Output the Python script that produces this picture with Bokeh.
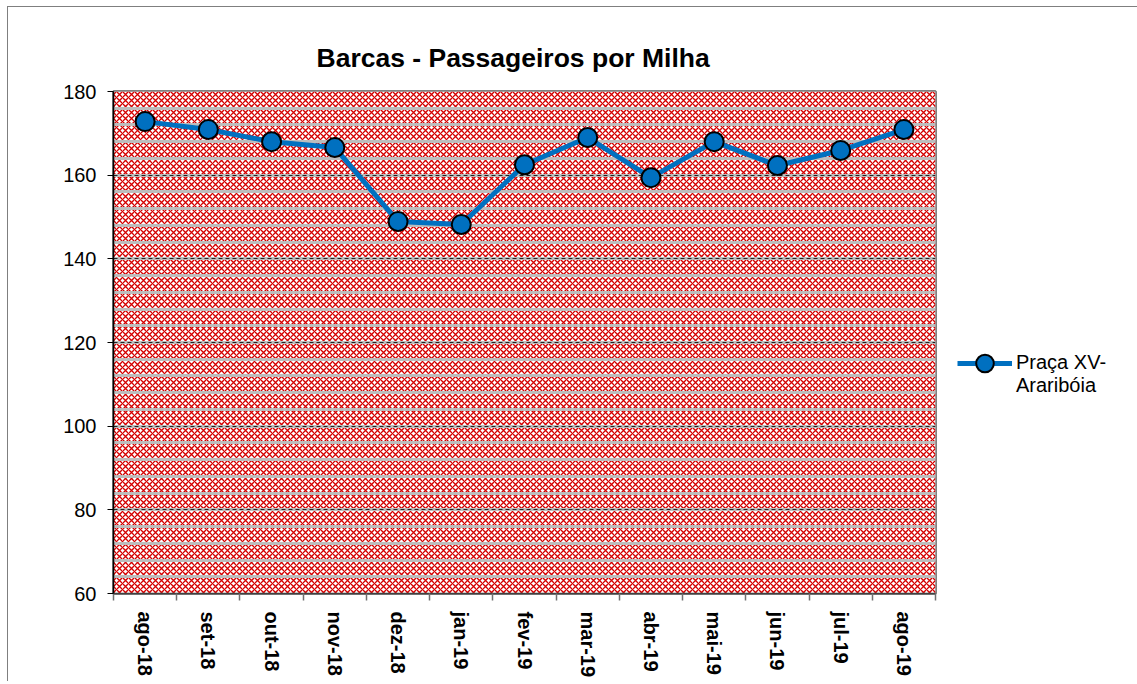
from bokeh.plotting import figure
from bokeh.models import (Range1d, FixedTicker, BoxAnnotation, Legend, LegendItem,
                          ColumnDataSource)
from bokeh.embed import file_html
from bokeh.resources import INLINE

# ---- data ----
months = ["ago-18", "set-18", "out-18", "nov-18", "dez-18", "jan-19", "fev-19",
          "mar-19", "abr-19", "mai-19", "jun-19", "jul-19", "ago-19"]
passageiros = [172.8, 170.9, 168.0, 166.6, 148.9, 148.2, 162.5,
               169.0, 159.4, 168.0, 162.3, 165.9, 170.9]
y_ticks = [60, 80, 100, 120, 140, 160, 180]
y_minor_ticks = list(range(60, 181, 4))
series_name_lines = ["Praça XV-", "Araribóia"]
title_text = "Barcas - Passageiros por Milha"

x_pos = [i + 0.5 for i in range(len(months))]
src = ColumnDataSource(dict(x=x_pos, y=passageiros, m=months))

FONT = "Liberation Sans"

p = figure(frame_width=822, frame_height=502,
           min_border_left=105, min_border_top=84,
           min_border_right=198, min_border_bottom=88,
           x_range=Range1d(0, len(months)), y_range=Range1d(y_ticks[0], y_ticks[-1]),
           output_backend="svg", toolbar_location=None, title=title_text,
           styles={"border-top": "1px solid #7f7f7f", "border-left": "1px solid #7f7f7f",
                   "margin-left": "7px", "margin-top": "6px"})

p.background_fill_color = "white"
p.border_fill_color = "white"

# title
p.title.text_font = FONT
p.title.text_font_size = "26.5px"
p.title.text_font_style = "bold"
p.title.align = "left"
p.title.offset = 203
p.title.standoff = 37
p.title.text_color = "black"

# patterned plot area
bg = BoxAnnotation(level="image", fill_color="#FFFFFF", fill_alpha=1.0,
                   hatch_pattern="diagonal_cross", hatch_color="#D40000",
                   hatch_scale=6, hatch_weight=1.3, hatch_alpha=1.0,
                   line_color=None)
p.add_layout(bg)

p.outline_line_color = "#808080"
p.outline_line_width = 3

# grids
p.xgrid.visible = False
p.yaxis.ticker = FixedTicker(ticks=y_ticks, minor_ticks=y_minor_ticks)
p.ygrid.grid_line_color = "#222222"
p.ygrid.grid_line_dash = "4 3"
p.ygrid.grid_line_width = 1
p.ygrid.minor_grid_line_color = "#BDBDBD"
p.ygrid.minor_grid_line_width = 3

# y axis
p.yaxis.axis_line_color = "black"
p.yaxis.axis_line_width = 1.5
p.yaxis.major_tick_line_color = "black"
p.yaxis.major_tick_out = 6
p.yaxis.major_tick_in = 0
p.yaxis.minor_tick_line_color = None
p.yaxis.major_label_text_font = FONT
p.yaxis.major_label_text_font_size = "20px"
p.yaxis.major_label_text_color = "black"
p.yaxis.major_label_standoff = 11

# x axis: labels at category centres, ticks between categories
p.xaxis.ticker = FixedTicker(ticks=x_pos, minor_ticks=list(range(len(months) + 1)))
p.xaxis.major_label_overrides = {xv: m for xv, m in zip(x_pos, months)}
p.xaxis.major_tick_line_color = None
p.xaxis.minor_tick_line_color = "#707070"
p.xaxis.minor_tick_line_width = 1.5
p.xaxis.minor_tick_out = 7
p.xaxis.minor_tick_in = 0
p.xaxis.axis_line_color = "#404040"
p.xaxis.axis_line_width = 1.5
p.xaxis.major_label_orientation = "vertical"
p.xaxis.major_label_text_font = FONT
p.xaxis.major_label_text_font_size = "20px"
p.xaxis.major_label_text_font_style = "bold"
p.xaxis.major_label_text_color = "black"
p.xaxis.major_label_standoff = 11

# series
ln = p.line("x", "y", source=src, line_color="#0070C0", line_width=5)
sc = p.scatter("x", "y", source=src, size=19, fill_color="#0070C0",
               line_color="black", line_width=2)

# blank first line keeps the legend glyph level with the first text line
legend_label = " \n" + "\n".join(series_name_lines)
legend = Legend(items=[LegendItem(label=legend_label, renderers=[ln, sc])],
                location=(22, 196), border_line_color=None,
                background_fill_alpha=0, label_text_font=FONT,
                label_text_font_size="20px", label_text_color="black",
                label_text_line_height=1.45,
                glyph_width=55, glyph_height=44, label_standoff=4,
                padding=0, margin=0)
p.add_layout(legend, "right")

open("out.html", "w").write(file_html(p, INLINE))
